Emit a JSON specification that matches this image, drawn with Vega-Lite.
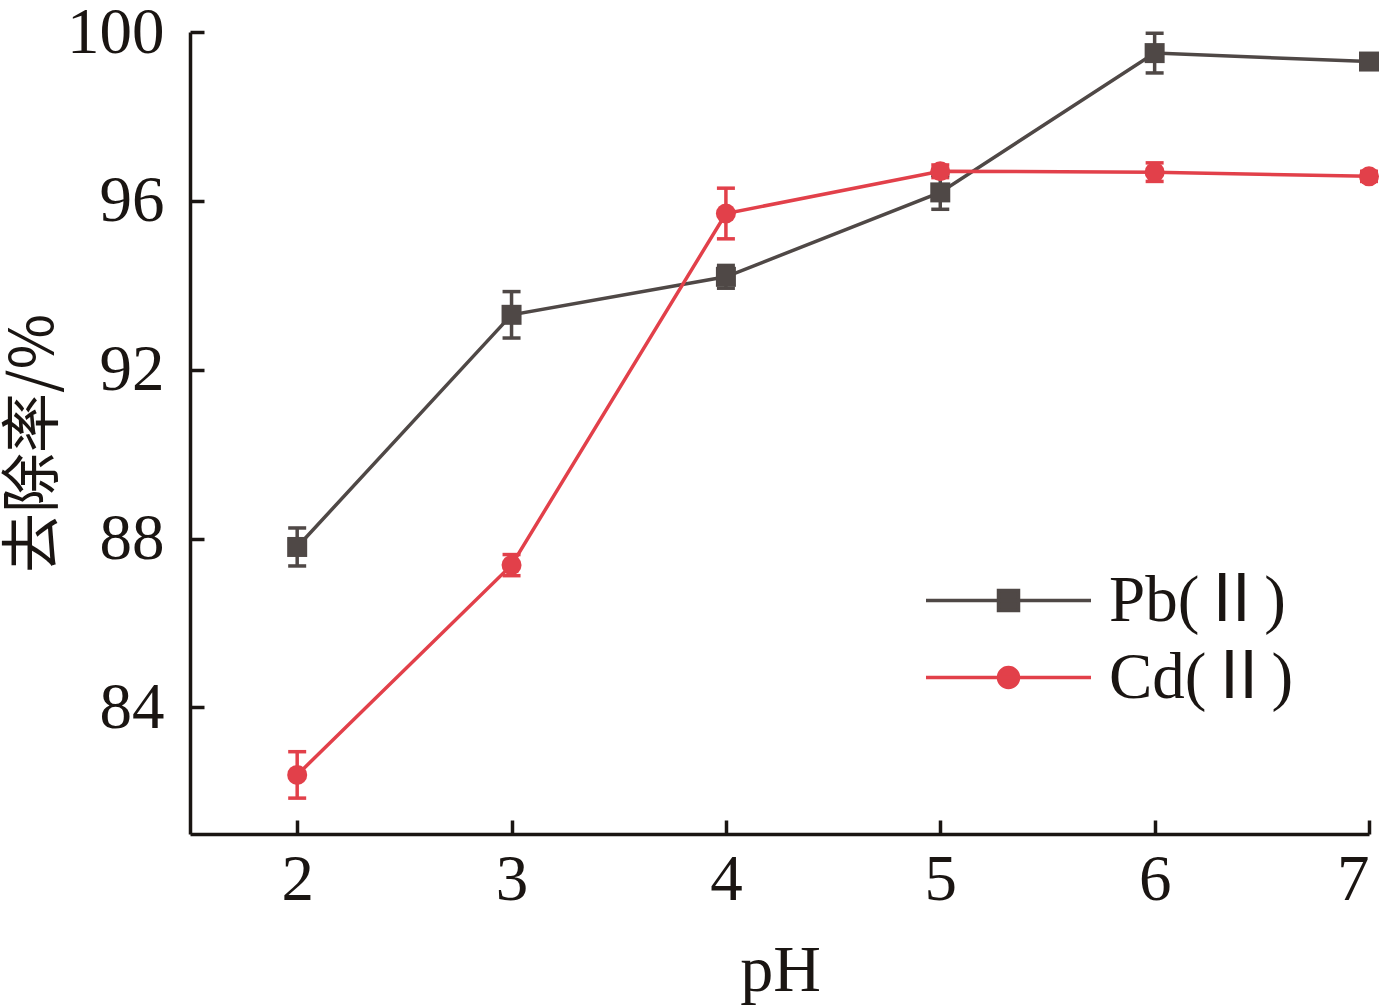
{
  "$schema": "https://vega.github.io/schema/vega-lite/v6.json",
  "width": 1179,
  "height": 802,
  "autosize": "none",
  "padding": {"left": 190, "top": 32, "right": 16, "bottom": 173},
  "background": "white",
  "data": {
    "values": [
      {"pH": 2, "series": "Pb(Ⅱ)", "rate": 87.8, "err": 0.45},
      {"pH": 3, "series": "Pb(Ⅱ)", "rate": 93.3, "err": 0.55},
      {"pH": 4, "series": "Pb(Ⅱ)", "rate": 94.2, "err": 0.27},
      {"pH": 5, "series": "Pb(Ⅱ)", "rate": 96.2, "err": 0.4},
      {"pH": 6, "series": "Pb(Ⅱ)", "rate": 99.5, "err": 0.47},
      {"pH": 7, "series": "Pb(Ⅱ)", "rate": 99.3, "err": 0.1},
      {"pH": 2, "series": "Cd(Ⅱ)", "rate": 82.4, "err": 0.55},
      {"pH": 3, "series": "Cd(Ⅱ)", "rate": 87.37, "err": 0.25},
      {"pH": 4, "series": "Cd(Ⅱ)", "rate": 95.7, "err": 0.6},
      {"pH": 5, "series": "Cd(Ⅱ)", "rate": 96.7, "err": 0.15},
      {"pH": 6, "series": "Cd(Ⅱ)", "rate": 96.68, "err": 0.22},
      {"pH": 7, "series": "Cd(Ⅱ)", "rate": 96.58, "err": 0.12}
    ]
  },
  "encoding": {
    "x": {
      "field": "pH",
      "type": "quantitative",
      "title": "pH",
      "scale": {"domain": [1.5, 7], "nice": false, "zero": false},
      "axis": {
        "values": [2, 3, 4, 5, 6, 7],
        "grid": false,
        "titleX": 590,
        "titleY": 136,
        "titleBaseline": "middle"
      }
    },
    "y": {
      "field": "rate",
      "type": "quantitative",
      "title": "去除率/%",
      "scale": {"domain": [81, 100], "nice": false, "zero": false},
      "axis": {
        "values": [84, 88, 92, 96, 100],
        "grid": false,
        "titleX": -156,
        "titleY": 411,
        "titleAlign": "center",
        "titleBaseline": "middle",
        "titleFont": "Noto Sans CJK SC",
        "titleFontSize": 60,
        "titleFontWeight": "normal"
      }
    },
    "color": {
      "field": "series",
      "type": "nominal",
      "scale": {"domain": ["Pb(Ⅱ)", "Cd(Ⅱ)"], "range": ["#4f4846", "#e2404a"]},
      "legend": {
        "encode": {
          "symbols": {
            "update": {
              "shape": {"signal": "datum.value === 'Pb(Ⅱ)' ? 'M-8.25,0H8.25M-1,-1H1V1H-1Z' : 'M-8.25,0H8.25M1,0A1,1 0 1,1 -1,0A1,1 0 1,1 1,0Z'"},
              "fill": {"signal": "datum.value === 'Pb(Ⅱ)' ? '#4f4846' : '#e2404a'"},
              "stroke": {"signal": "datum.value === 'Pb(Ⅱ)' ? '#4f4846' : '#e2404a'"},
              "strokeWidth": {"value": 3.5},
              "opacity": {"value": 1}
            }
          }
        }
      }
    }
  },
  "layer": [
    {
      "mark": {"type": "errorbar", "opacity": 1, "thickness": 3.5, "ticks": {"size": 18, "thickness": 3.5, "opacity": 1}, "rule": {"opacity": 1}},
      "encoding": {
        "yError": {"field": "err"}
      }
    },
    {
      "mark": {"type": "line", "strokeWidth": 3.5}
    },
    {
      "transform": [{"filter": "datum.series === 'Pb(Ⅱ)'"}],
      "mark": {"type": "point", "shape": "square", "filled": true, "opacity": 1, "size": 400}
    },
    {
      "transform": [{"filter": "datum.series === 'Cd(Ⅱ)'"}],
      "mark": {"type": "point", "shape": "circle", "filled": true, "opacity": 1, "size": 400}
    }
  ],
  "config": {
    "view": {"stroke": null},
    "font": "Liberation Serif",
    "axis": {
      "domainColor": "#1a1512",
      "domainWidth": 3.5,
      "tickColor": "#1a1512",
      "tickWidth": 3.5,
      "tickSize": -14,
      "labelFont": "Liberation Serif",
      "labelFontSize": 65,
      "labelColor": "#1a1512",
      "titleFont": "Liberation Serif",
      "titleFontSize": 66,
      "titleFontWeight": "normal",
      "titleColor": "#1a1512"
    },
    "axisX": {"labelPadding": 28},
    "axisY": {"labelPadding": 40},
    "legend": {
      "title": null,
      "orient": "none",
      "legendX": 786,
      "legendY": 536,
      "labelOffset": 68,
      "labelLimit": 400,
      "rowPadding": 11,
      "symbolSize": 400,
      "symbolOpacity": 1,
      "symbolStrokeWidth": 3.5,
      "labelFont": "Liberation Serif, Noto Sans CJK SC",
      "labelFontSize": 65,
      "labelColor": "#1a1512"
    }
  }
}
